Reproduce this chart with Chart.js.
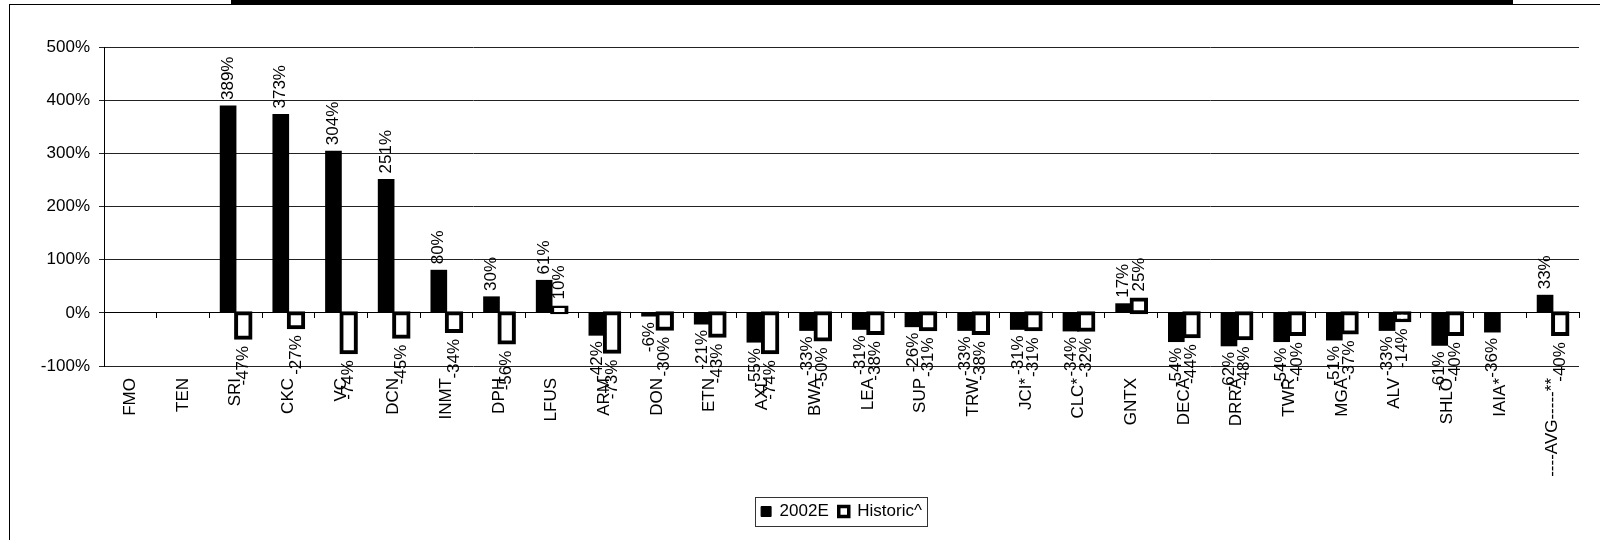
<!DOCTYPE html>
<html>
<head>
<meta charset="utf-8">
<script src="https://cdn.jsdelivr.net/npm/chart.js@4.4.1/dist/chart.umd.min.js"></script>
<style>
html,body{margin:0;padding:0;background:#fff;}
#wrap{position:relative;width:1600px;height:540px;overflow:hidden;background:#fff;}
#frame{position:absolute;left:9px;top:4px;width:1591px;height:536px;border-left:1px solid #000;border-top:1px solid #000;box-sizing:border-box;}
#topbar{position:absolute;left:231px;top:0;width:1282px;height:4px;background:#000;}
canvas{position:absolute;left:0;top:0;}
</style>
</head>
<body>
<div id="wrap">
  <div id="frame"></div>
  <div id="topbar"></div>
  <canvas id="c" width="1600" height="540"></canvas>
</div>
<script>
// ---- data ----
const categories = ['FMO','TEN','SRI','CKC','VC','DCN','INMT','DPH','LFUS','ARM','DON','ETN','AXL','BWA','LEA','SUP','TRW','JCI*','CLC*','GNTX','DECA','DRRA','TWR','MGA','ALV','SHLO','IAIA*','----AVG-----**'];
const est2002 = [null,null,389,373,304,251,80,30,61,-42,-6,-21,-55,-33,-31,-26,-33,-31,-34,17,-54,-62,-54,-51,-33,-61,-36,33];
const historic = [null,null,-47,-27,-74,-45,-34,-56,10,-73,-30,-43,-74,-50,-38,-31,-38,-31,-32,25,-44,-48,-40,-37,-14,-40,null,-40];
const seriesNames = ['2002E','Historic^'];
const yMin = -100, yMax = 500, yStep = 100;

Chart.defaults.font.family = '"Liberation Sans", Arial, Helvetica, sans-serif';
Chart.defaults.font.size = 17;
Chart.defaults.color = '#000';

const valueLabels = {
  id: 'valueLabels',
  afterDatasetsDraw(chart) {
    const ctx = chart.ctx;
    ctx.save();
    ctx.font = '17px "Liberation Sans", Arial, sans-serif';
    ctx.fillStyle = '#000';
    ctx.textBaseline = 'middle';
    chart.data.datasets.forEach((ds, di) => {
      const meta = chart.getDatasetMeta(di);
      const extra = di === 1 ? 2 : 0;
      meta.data.forEach((el, i) => {
        const v = ds.data[i];
        if (v === null || v === undefined) return;
        const gap = 6 + extra;
        const y = v >= 0 ? el.y - gap : el.y + gap;
        ctx.save();
        ctx.translate(el.x, y);
        ctx.rotate(-Math.PI / 2);
        ctx.textAlign = v >= 0 ? 'left' : 'right';
        ctx.fillText(v + '%', 0, 0);
        ctx.restore();
      });
    });
    ctx.restore();
  },
  afterDraw(chart) {
    const lg = chart.legend;
    if (!lg || !lg.legendHitBoxes || !lg.legendHitBoxes.length) return;
    const hb = lg.legendHitBoxes;
    let l = Infinity, r = -Infinity, t = Infinity, b = -Infinity;
    hb.forEach(h => {
      l = Math.min(l, h.left); r = Math.max(r, h.left + h.width);
      t = Math.min(t, h.top); b = Math.max(b, h.top + h.height);
    });
    const ctx = chart.ctx;
    ctx.save();
    ctx.strokeStyle = '#333';
    ctx.lineWidth = 1;
    ctx.strokeRect(Math.round(l - 6) + 0.5, Math.round(t - 6) + 0.5, Math.round(r - l + 11), Math.round(b - t + 12));
    ctx.restore();
  }
};

new Chart(document.getElementById('c'), {
  type: 'bar',
  data: {
    labels: categories,
    datasets: [
      {
        label: seriesNames[0],
        data: est2002,
        backgroundColor: '#000',
        borderColor: '#000',
        borderWidth: 0,
        inflateAmount: 0.5,
        categoryPercentage: 0.577,
        barPercentage: 1.03
      },
      {
        label: seriesNames[1],
        data: historic,
        backgroundColor: '#fff',
        borderColor: '#000',
        borderWidth: 4,
        borderSkipped: false,
        inflateAmount: 2,
        categoryPercentage: 0.577,
        barPercentage: 0.95
      }
    ]
  },
  options: {
    responsive: false,
    animation: false,
    layout: { padding: { left: 0, right: 21, top: 47, bottom: 10 } },
    plugins: {
      tooltip: { enabled: false },
      legend: {
        position: 'bottom',
        fullSize: false,
        labels: {
          boxWidth: 10,
          boxHeight: 10,
          padding: 10,
          color: '#000',
          font: { size: 17 },
          generateLabels(chart) {
            const items = Chart.defaults.plugins.legend.labels.generateLabels(chart);
            items.forEach((it, i) => {
              it.lineWidth = i === 1 ? 3.5 : 1;
              it.strokeStyle = '#000';
              it.fillStyle = i === 1 ? '#fff' : '#000';
            });
            return items;
          }
        }
      }
    },
    scales: {
      x: {
        type: 'category',
        offset: true,
        grid: { display: false, drawTicks: false, offset: true },
        border: { display: false },
        ticks: { autoSkip: false, maxRotation: 90, minRotation: 90, padding: 12, color: '#000', font: { size: 17 } },
        afterFit(scale) { scale.height = 127; }
      },
      x2: {
        type: 'category',
        axis: 'x',
        position: { y: 0 },
        offset: true,
        grid: { offset: true, drawOnChartArea: false, drawTicks: true, tickLength: 5, color: '#000' },
        border: { display: true, color: '#000', width: 1 },
        ticks: { display: false }
      },
      y: {
        min: yMin,
        max: yMax,
        ticks: { stepSize: yStep, padding: 9, color: '#000', font: { size: 17 }, callback: v => v + '%' },
        grid: { color: '#222', lineWidth: 1, tickLength: 5, drawTicks: true },
        border: { display: true, color: '#000', width: 1 },
        afterFit(scale) { scale.width = 104; }
      }
    }
  },
  plugins: [valueLabels]
});
</script>
</body>
</html>
